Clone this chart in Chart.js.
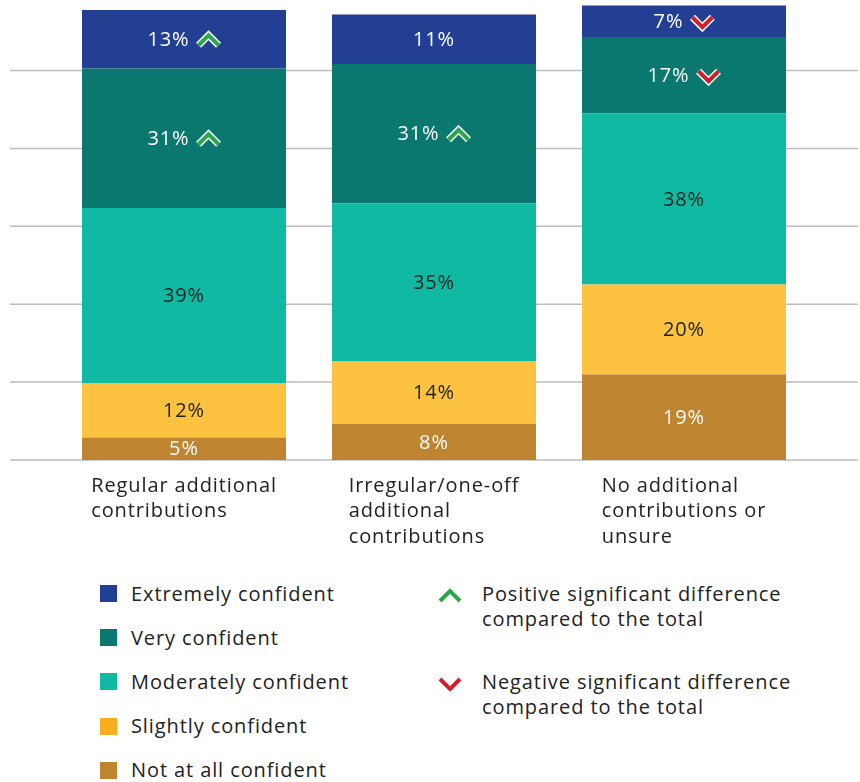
<!DOCTYPE html>
<html>
<head>
<meta charset="utf-8">
<script src="https://cdn.jsdelivr.net/npm/chart.js@4.4.0/dist/chart.umd.min.js"></script>
<style>
body { margin: 0; background: #fff; font-family: "Open Sans", sans-serif; color: #222; }
#wrap { position: relative; width: 860px; height: 782px; overflow: hidden; }
#chart { position: absolute; left: 0; top: 0; }
.lt { position: absolute; font-size: 20px; line-height: 25px; color: #222; white-space: nowrap; letter-spacing: 0.9px; }
.sq { position: absolute; width: 17px; height: 17px; }
.chev { position: absolute; }
</style>
</head>
<body>
<div id="wrap">
  <canvas id="chart" width="860" height="560"></canvas>
  <div id="legend"></div>
</div>
<script>
// categories (already split into lines as in the picture)
const categories = [
    ['Regular additional', 'contributions'],
    ['Irregular/one-off', 'additional', 'contributions'],
    ['No additional', 'contributions or', 'unsure']
];
const seriesNames = ['Not at all confident', 'Slightly confident', 'Moderately confident', 'Very confident', 'Extremely confident'];

const notAtAll   = [5, 8, 19];
const slightly   = [12, 14, 20];
const moderately = [39, 35, 38];
const very       = [31, 31, 17];
const extremely  = [13, 11, 7];

// difference vs total: 1 = positive, -1 = negative, 0 = none
const sigVery      = [1, 1, -1];
const sigExtremely = [1, 0, -1];

const colors     = ['#bf842f', '#fdc23f', '#10b9a1', '#0a786e', '#233f93'];
const textColors = ['#ffffff', '#222222', '#222222', '#ffffff', '#ffffff'];
const legendColors = ['#bf842f', '#f9ae22', '#10b9a1', '#0a786e', '#233f93'];

const gridStep = 17.31;
const GREEN = '#2aa74a';
const RED = '#d0202e';
const FONT = '20px "Open Sans"';

function chevron(ctx, cx, cy, up, color, outline) {
    ctx.save();
    ctx.beginPath();
    if (up) {
        ctx.moveTo(cx - 10, cy + 5); ctx.lineTo(cx, cy - 5); ctx.lineTo(cx + 10, cy + 5);
    } else {
        ctx.moveTo(cx - 10, cy - 5); ctx.lineTo(cx, cy + 5); ctx.lineTo(cx + 10, cy - 5);
    }
    ctx.lineJoin = 'miter';
    ctx.lineCap = 'butt';
    if (outline) {
        ctx.strokeStyle = '#ffffff';
        ctx.lineWidth = 7;
        ctx.stroke();
    }
    ctx.strokeStyle = color;
    ctx.lineWidth = 4;
    ctx.stroke();
    ctx.restore();
}

const extraDraw = {
    id: 'extraDraw',
    beforeDatasetsDraw(chart) {
        const ctx = chart.ctx;
        const y = chart.scales.y;
        ctx.save();
        ctx.strokeStyle = '#bdbdbd';
        ctx.lineWidth = 1.5;
        for (let v = 0; v <= y.max; v += gridStep) {
            const py = y.getPixelForValue(v);
            ctx.beginPath();
            ctx.moveTo(10, py);
            ctx.lineTo(858, py);
            ctx.stroke();
        }
        ctx.restore();
    },
    afterDatasetsDraw(chart) {
        const ctx = chart.ctx;
        ctx.save();
        ctx.font = FONT;
        ctx.letterSpacing = '0.9px';
        ctx.textBaseline = 'middle';
        chart.data.datasets.forEach((ds, i) => {
            const meta = chart.getDatasetMeta(i);
            meta.data.forEach((el, j) => {
                const txt = ds.data[j] + '%';
                const cy = (el.y + el.base) / 2 + 1;
                const sig = ds.sig ? ds.sig[j] : 0;
                const tw = ctx.measureText(txt).width;
                const total = sig ? tw + 7 + 24 : tw;
                const sx = el.x - total / 2;
                ctx.fillStyle = textColors[i];
                ctx.textAlign = 'left';
                ctx.fillText(txt, sx, cy);
                if (sig) chevron(ctx, sx + tw + 7 + 12, cy, sig > 0, sig > 0 ? GREEN : RED, true);
            });
        });
        // category labels under the bars
        ctx.fillStyle = '#222';
        ctx.textAlign = 'left';
        const meta0 = chart.getDatasetMeta(0);
        categories.forEach((lines, j) => {
            const cx = meta0.data[j].x;
            const w = Math.max(...lines.map(l => ctx.measureText(l).width));
            const lx = cx - w / 2;
            lines.forEach((l, k) => ctx.fillText(l, lx, 486 + k * 25.5));
        });
        ctx.restore();
    }
};

const series = [notAtAll, slightly, moderately, very, extremely];
const sigs = [null, null, null, sigVery, sigExtremely];

const chart = new Chart(document.getElementById('chart').getContext('2d'), {
    type: 'bar',
    data: {
        labels: categories,
        datasets: series.map((d, i) => ({
            label: seriesNames[i],
            data: d,
            sig: sigs[i],
            backgroundColor: colors[i],
            borderWidth: 0,
            categoryPercentage: 1,
            barPercentage: 0.816
        }))
    },
    options: {
        responsive: false,
        animation: false,
        layout: { padding: { left: 59, right: 51, top: 1, bottom: 100 } },
        plugins: { legend: { display: false }, tooltip: { enabled: false } },
        scales: {
            x: { stacked: true, display: false },
            y: { stacked: true, display: false, min: 0, max: 102 }
        }
    },
    plugins: [extraDraw]
});

// legend
const leg = document.getElementById('legend');
const order = [4, 3, 2, 1, 0];
order.forEach((si, k) => {
    const cy = 593.5 + k * 44.2;
    const sq = document.createElement('div');
    sq.className = 'sq';
    sq.style.left = '100px';
    sq.style.top = (cy - 8.5) + 'px';
    sq.style.background = legendColors[si];
    leg.appendChild(sq);
    const t = document.createElement('div');
    t.className = 'lt';
    t.style.left = '131px';
    t.style.top = (cy - 13) + 'px';
    t.textContent = seriesNames[si];
    leg.appendChild(t);
});

const sigLegend = [
    { up: true, color: GREEN, lines: ['Positive significant difference', 'compared to the total'], y: 594 },
    { up: false, color: RED, lines: ['Negative significant difference', 'compared to the total'], y: 682 }
];
sigLegend.forEach(s => {
    const c = document.createElement('canvas');
    c.width = 30; c.height = 20;
    c.className = 'chev';
    c.style.left = (449.5 - 15) + 'px';
    c.style.top = (s.y + 2 - 10) + 'px';
    chevron(c.getContext('2d'), 15, 10, s.up, s.color, false);
    leg.appendChild(c);
    const t = document.createElement('div');
    t.className = 'lt';
    t.style.left = '482px';
    t.style.top = (s.y - 13) + 'px';
    t.innerHTML = s.lines.join('<br>');
    leg.appendChild(t);
});
</script>
</body>
</html>
